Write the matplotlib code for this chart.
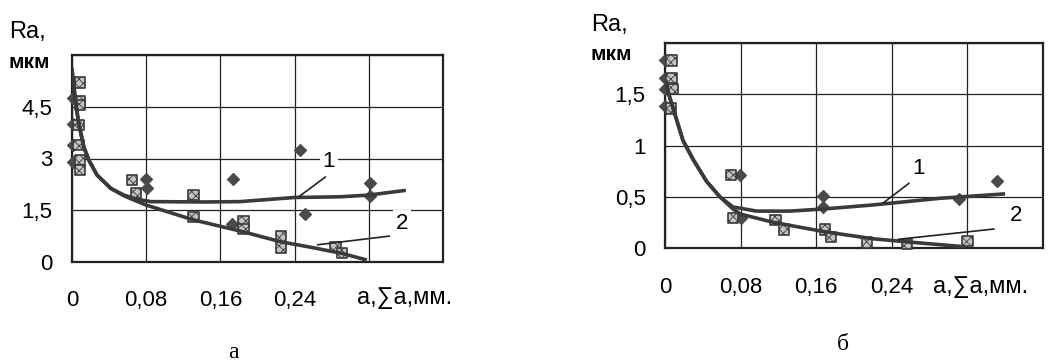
import numpy as np
import matplotlib
matplotlib.use("Agg")
import matplotlib.pyplot as plt

plt.rcParams['font.family'] = ['Liberation Sans', 'DejaVu Sans']
plt.rcParams['hatch.linewidth'] = 0.6

# ---- panel a ----
a_sq_x = [0.009, 0.009, 0.009, 0.007, 0.007, 0.009, 0.009, 0.065, 0.069, 0.131, 0.131,
          0.185, 0.185, 0.225, 0.225, 0.284, 0.291]
a_sq_y = [5.2, 4.65, 4.55, 3.97, 3.39, 2.96, 2.67, 2.38, 2.01, 1.94, 1.30,
          1.17, 0.95, 0.74, 0.42, 0.43, 0.27]
a_di_x = [0.001, 0.001, 0.001, 0.001, 0.080, 0.081, 0.174, 0.172, 0.246, 0.251, 0.321, 0.321]
a_di_y = [4.74, 4.0, 3.39, 2.90, 2.40, 2.14, 2.40, 1.09, 3.25, 1.38, 2.28, 1.91]

a_c1_x = [0.0, 0.0036, 0.0072, 0.0127, 0.018, 0.027, 0.042, 0.056, 0.070, 0.085, 0.145,
          0.181, 0.240, 0.289, 0.320, 0.358]
a_c1_y = [5.57, 4.70, 4.02, 3.34, 2.96, 2.52, 2.13, 1.94, 1.82, 1.75, 1.74,
          1.75, 1.87, 1.89, 1.94, 2.07]
a_c2_x = [0.0, 0.0036, 0.0072, 0.0127, 0.018, 0.027, 0.042, 0.056, 0.070, 0.080, 0.131,
          0.181, 0.226, 0.255, 0.291, 0.316]
a_c2_y = [5.57, 4.70, 4.02, 3.34, 2.96, 2.52, 2.13, 1.92, 1.76, 1.65, 1.22,
          0.90, 0.58, 0.44, 0.25, 0.07]

# ---- panel б ----
b_sq_x = [0.007, 0.007, 0.008, 0.006, 0.070, 0.072, 0.117, 0.126, 0.169, 0.176, 0.214,
          0.256, 0.320]
b_sq_y = [1.83, 1.66, 1.55, 1.36, 0.71, 0.29, 0.27, 0.18, 0.18, 0.11, 0.055,
          0.04, 0.07]
b_di_x = [0.0, 0.0, 0.0, 0.0, 0.079, 0.080, 0.167, 0.167, 0.311, 0.351]
b_di_y = [1.83, 1.66, 1.55, 1.39, 0.71, 0.29, 0.51, 0.40, 0.475, 0.65]

b_c1_x = [0.001, 0.004, 0.009, 0.019, 0.030, 0.044, 0.058, 0.072, 0.097, 0.132,
          0.167, 0.220, 0.291, 0.358]
b_c1_y = [1.62, 1.50, 1.35, 1.05, 0.86, 0.65, 0.50, 0.40, 0.36, 0.36,
          0.38, 0.42, 0.485, 0.527]
b_c2_x = [0.001, 0.004, 0.009, 0.019, 0.030, 0.044, 0.058, 0.072, 0.080, 0.115,
          0.168, 0.220, 0.256, 0.316]
b_c2_y = [1.62, 1.50, 1.35, 1.05, 0.86, 0.65, 0.50, 0.38, 0.33, 0.25,
          0.16, 0.09, 0.06, 0.013]

x_ticks = [0, 0.08, 0.16, 0.24]
x_labels = ['0', '0,08', '0,16', '0,24']
a_y_ticks = [0, 1.5, 3, 4.5]
a_y_labels = ['0', '1,5', '3', '4,5']
b_y_ticks = [0, 0.5, 1, 1.5]
b_y_labels = ['0', '0,5', '1', '1,5']

LINE = '#3a3a3a'
fig = plt.figure(figsize=(10.55, 3.62), dpi=100)
axa = fig.add_axes([72/1055, 1-262/362, (443-72)/1055, (262-55)/362])
axb = fig.add_axes([665/1055, 1-248/362, (1043-665)/1055, (248-43)/362])


def panel(ax, sqx, sqy, dix, diy, c1x, c1y, c2x, c2y, ymax, yt, ytl,
          lab1, lead1, lab2, lead2, xpad):
    ax.set_xlim(0, 0.40)
    ax.set_ylim(0, ymax)
    ax.set_xticks([0, 0.08, 0.16, 0.24, 0.32, 0.40])
    ax.set_xticklabels(x_labels + ['', ''], fontsize=16)
    ax.set_yticks(yt + [ymax])
    ax.set_yticklabels(ytl + [''], fontsize=16)
    ax.tick_params(length=0, pad=14)
    ax.tick_params(axis='x', pad=xpad)
    ax.grid(True, color='#222222', lw=0.9)
    ax.set_axisbelow(True)
    for s in ax.spines.values():
        s.set_linewidth(1.6)
        s.set_color('#222222')
    ax.scatter(dix, diy, marker='D', s=36, color='#4a4a4a', zorder=3, clip_on=False)
    ax.scatter(sqx, sqy, marker='s', s=55, facecolor='#c4c4c4', edgecolor='#3a3a3a',
               hatch='xxxx', lw=1.2, zorder=4, clip_on=False)
    ax.plot(c1x, c1y, color=LINE, lw=2.6, zorder=5)
    ax.plot(c2x, c2y, color=LINE, lw=2.6, zorder=5)
    ax.plot(*lead1, color='#222222', lw=1.2, zorder=5)
    ax.plot(*lead2, color='#222222', lw=1.2, zorder=5)
    ax.text(lab1[0], lab1[1], '1', fontsize=16, ha='center', va='center', zorder=6,
            bbox=dict(facecolor='white', edgecolor='none', pad=2))
    ax.text(lab2[0], lab2[1], '2', fontsize=16, ha='center', va='center', zorder=6,
            bbox=dict(facecolor='white', edgecolor='none', pad=2))


panel(axa, a_sq_x, a_sq_y, a_di_x, a_di_y, a_c1_x, a_c1_y, a_c2_x, a_c2_y, 6.0,
      a_y_ticks, a_y_labels,
      (0.277, 2.9), ([0.245, 0.273], [1.90, 2.46]),
      (0.356, 1.13), ([0.265, 0.342], [0.50, 0.75]), 20)
panel(axb, b_sq_x, b_sq_y, b_di_x, b_di_y, b_c1_x, b_c1_y, b_c2_x, b_c2_y, 2.0,
      b_y_ticks, b_y_labels,
      (0.268, 0.78), ([0.231, 0.258], [0.44, 0.63]),
      (0.371, 0.32), ([0.247, 0.348], [0.085, 0.185]), 21)

# axis captions
fig.text(9/1055, 1-32/362, 'Ra,', fontsize=17, va='center')
fig.text(9/1055, 1-62/362, 'мкм', fontsize=15, fontweight='bold', va='center')
fig.text(591/1055, 1-25/362, 'Ra,', fontsize=17, va='center')
fig.text(591/1055, 1-55/362, 'мкм', fontsize=15, fontweight='bold', va='center')
fig.text(357/1055, 1-298/362, 'a,\u2211a,мм.', fontsize=17, va='center')
fig.text(933/1055, 1-287/362, 'a,\u2211a,мм.', fontsize=17, va='center')
fig.text(233/1055, 1-353/362, 'а', fontsize=17, ha='center', va='center',
         family=['Liberation Serif', 'DejaVu Serif'])
fig.text(843/1055, 1-345/362, 'б', fontsize=17, ha='center', va='center',
         family=['Liberation Serif', 'DejaVu Serif'])

fig.savefig('out.png', dpi=100)
